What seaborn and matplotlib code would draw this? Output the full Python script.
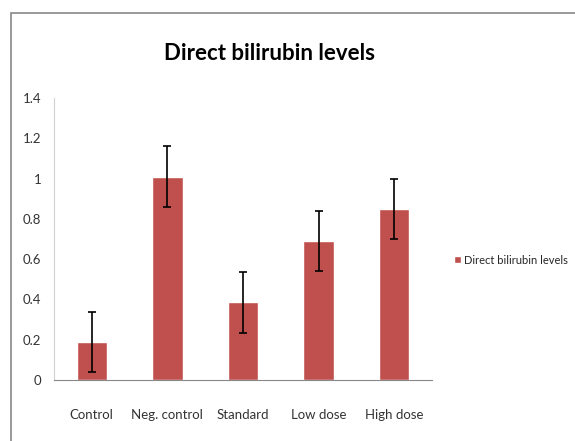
import seaborn as sns
import matplotlib.pyplot as plt
import pandas as pd
from matplotlib.patches import Rectangle

# data
groups = ["Control", "Neg. control", "Standard", "Low dose", "High dose"]
levels = [0.19, 1.01, 0.385, 0.69, 0.85]
errors = [0.15, 0.15, 0.15, 0.15, 0.15]
series_name = "Direct bilirubin levels"

df = pd.DataFrame({"Group": groups, "Level": levels, "Series": series_name})

sns.set_style("white")
plt.rcParams["font.family"] = ["Lato", "DejaVu Sans"]

fig = plt.figure(figsize=(5.75, 4.41), dpi=100)
ax = fig.add_axes([54 / 575, 1 - 380 / 441, 378 / 575, 282 / 441])

sns.barplot(data=df, x="Group", y="Level", hue="Series", palette=["#C0504D"],
            width=0.4, errorbar=None, ax=ax, legend=True, saturation=1)
ax.errorbar(groups, levels, yerr=errors, fmt="none", ecolor="black",
            elinewidth=1.2, capsize=3, capthick=1.2)

ax.set_ylim(0, 1.4)
ax.set_yticks([0, 0.2, 0.4, 0.6, 0.8, 1.0, 1.2, 1.4])
ax.set_yticklabels(["0", "0.2", "0.4", "0.6", "0.8", "1", "1.2", "1.4"])
ax.set_xlim(-0.5, 4.5)
ax.set_xlabel("")
ax.set_ylabel("")
ax.tick_params(axis="both", labelsize=9.5, colors="#333333", length=0)
ax.tick_params(axis="y", pad=9)
ax.tick_params(axis="x", pad=21)
for s in ["top", "right"]:
    ax.spines[s].set_visible(False)
ax.spines["left"].set_color("#D0D0D0")
ax.spines["bottom"].set_color("#888888")

ax.legend(loc="center left", bbox_to_anchor=(444 / 575, 1 - 260 / 441),
          bbox_transform=fig.transFigure, frameon=False, fontsize=8,
          handlelength=0.6, handleheight=0.6, handletextpad=0.3)

fig.text(270 / 575, 1 - 53 / 441, "Direct bilirubin levels", ha="center",
         va="center", fontsize=16, fontweight="bold", color="black")

# outer chart frame (cropped at right and bottom)
fig.add_artist(Rectangle((11 / 575, -0.1), 1.2, 1 - 13 / 441 + 0.1,
                         transform=fig.transFigure, fill=False,
                         edgecolor="#888888", linewidth=1.2))

fig.savefig("out.png", dpi=100)
